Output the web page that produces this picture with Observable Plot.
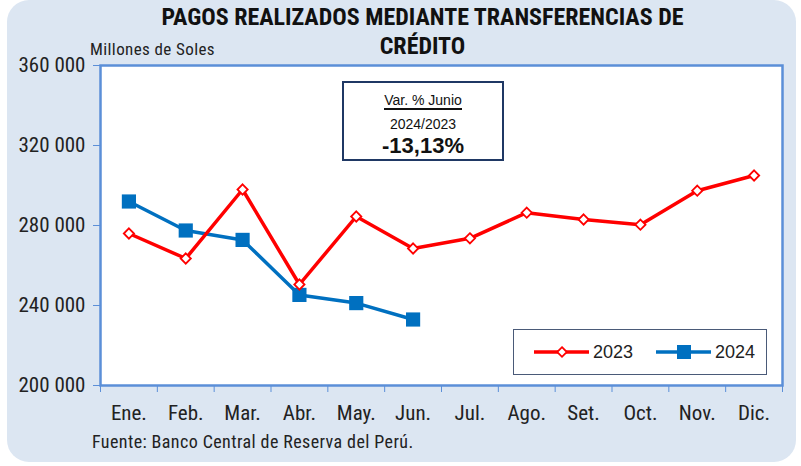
<!DOCTYPE html>
<html>
<head>
<meta charset="utf-8">
<script src="https://cdn.jsdelivr.net/npm/d3@7"></script>
<script src="https://cdn.jsdelivr.net/npm/@observablehq/plot@0.6"></script>
<style>
  html, body { margin: 0; padding: 0; background: #ffffff; }
  #wrap { position: relative; width: 801px; height: 466px; overflow: hidden; }
  #bg { position: absolute; left: 7px; top: 0px; width: 789px; height: 462px; background: #dce6f2; border-radius: 22px; }
  #chart { position: absolute; left: 0; top: 0; }
  .narrow { font-family: "Liberation Sans Narrow", "Roboto Condensed", "Liberation Sans", sans-serif; }
  #title { position: absolute; left: 0; width: 845px; top: 3px; text-align: center; font-weight: bold; font-size: 24px; line-height: 29px; color: #111; }
  #ylab { position: absolute; left: 90px; top: 39px; font-size: 17px; letter-spacing: 0.4px; color: #222; }
  #source { position: absolute; left: 92px; top: 431px; font-size: 18px; letter-spacing: 0.4px; color: #222; }
  #annot { position: absolute; left: 342px; top: 81px; width: 158px; height: 76px; border: 2px solid #1f3864; background: #fff; box-sizing: content-box; text-align: center; font-family: "Liberation Sans", Arial, sans-serif; color: #111; }
  #annot .l1 { position: absolute; left: 0; right: 0; top: 9px; font-size: 14px; }
  #annot .l1 span { border-bottom: 2px solid #111; line-height: 16px; display: inline-block; }
  #annot .l2 { position: absolute; left: 0; right: 0; top: 33px; font-size: 14px; }
  #annot .l3 { position: absolute; left: 0; right: 0; top: 50px; font-size: 22px; font-weight: bold; }
  #legend { position: absolute; left: 513px; top: 329px; width: 252px; height: 44px; border: 1.5px solid #4a5a78; background: #fff; font-family: "Liberation Sans", Arial, sans-serif; font-size: 17px; color: #222; }
</style>
</head>
<body>
<div id="wrap">
  <div id="bg"></div>
  <div id="chart"></div>
  <div id="title" class="narrow">PAGOS REALIZADOS MEDIANTE TRANSFERENCIAS DE<br>CRÉDITO</div>
  <div id="ylab" class="narrow">Millones de Soles</div>
  <div id="annot">
    <div class="l1"><span>Var. % Junio</span></div>
    <div class="l2">2024/2023</div>
    <div class="l3">-13,13%</div>
  </div>
  <div id="legend"></div>
  <div id="source" class="narrow">Fuente: Banco Central de Reserva del Perú.</div>
</div>
<script>
const months = ["Ene.", "Feb.", "Mar.", "Abr.", "May.", "Jun.", "Jul.", "Ago.", "Set.", "Oct.", "Nov.", "Dic."];
const values2023 = [276000, 263500, 298000, 250500, 284500, 268500, 273600, 286400, 283000, 280400, 297400, 305000];
const values2024 = [292000, 277500, 272800, 245300, 241200, 233000];
const yTicks = [200000, 240000, 280000, 320000, 360000];
const seriesNames = ["2023", "2024"];
const colors = ["#ff0000", "#0070c0"];

const rows2023 = values2023.map((v, i) => ({i: i + 0.5, v}));
const rows2024 = values2024.map((v, i) => ({i: i + 0.5, v}));
const fmt = d => d3.format(",")(d).replace(/,/g, " ");
const FONT = '"Liberation Sans Narrow", "Roboto Condensed", "Liberation Sans", sans-serif';

const plot = Plot.plot({
  width: 801,
  height: 466,
  marginLeft: 100,
  marginRight: 19,
  marginTop: 65,
  marginBottom: 81,
  style: {background: "transparent", fontFamily: FONT, fontSize: "21px", color: "#222"},
  x: {domain: [0, 12]},
  y: {domain: [200000, 360000]},
  marks: [
    Plot.frame({fill: "#ffffff", stroke: "none"}),
    Plot.axisY({ticks: yTicks, tickFormat: fmt, tickSize: 7, tickPadding: 8, stroke: "#5b8fd8", fill: "#222", label: null, fontSize: 21}),
    Plot.axisX({ticks: d3.range(13), tickFormat: () => "", tickSize: 7, stroke: "#5b8fd8", label: null}),
    Plot.axisX({ticks: months.map((m, i) => i + 0.5), tickFormat: d => months[Math.floor(d)], tickSize: 0, tickPadding: 20, fill: "#222", label: null, fontSize: 21}),
    Plot.frame({stroke: "#5b8fd8", strokeWidth: 2.5}),
    Plot.line(rows2024, {x: "i", y: "v", stroke: colors[1], strokeWidth: 3.5}),
    Plot.dot(rows2024, {x: "i", y: "v", symbol: "square", r: 8, fill: colors[1], stroke: "none"}),
    Plot.line(rows2023, {x: "i", y: "v", stroke: colors[0], strokeWidth: 3.5}),
    Plot.dot(rows2023, {x: "i", y: "v", symbol: "diamond2", r: 4.6, fill: "#ffffff", stroke: colors[0], strokeWidth: 1.8})
  ]
});
document.getElementById("chart").appendChild(plot);

// legend
const leg = d3.select("#legend").append("svg").attr("width", 252).attr("height", 44);
const items = [{x: 20, sym: "diamond"}, {x: 142, sym: "square"}];
items.forEach((it, k) => {
  const g = leg.append("g").attr("transform", `translate(${it.x},22)`);
  g.append("line").attr("x1", 0).attr("x2", 55).attr("stroke", colors[k]).attr("stroke-width", 3.5);
  if (k === 0) {
    g.append("path").attr("d", d3.symbol(d3.symbolDiamond2, 60)()).attr("transform", "translate(28,0)").attr("fill", "#fff").attr("stroke", colors[0]).attr("stroke-width", 1.8);
  } else {
    g.append("rect").attr("x", 21).attr("y", -7).attr("width", 14).attr("height", 14).attr("fill", colors[1]);
  }
  g.append("text").attr("x", 59).attr("y", 6).text(seriesNames[k]).attr("fill", "#222").attr("font-size", 18);
});
</script>
</body>
</html>
